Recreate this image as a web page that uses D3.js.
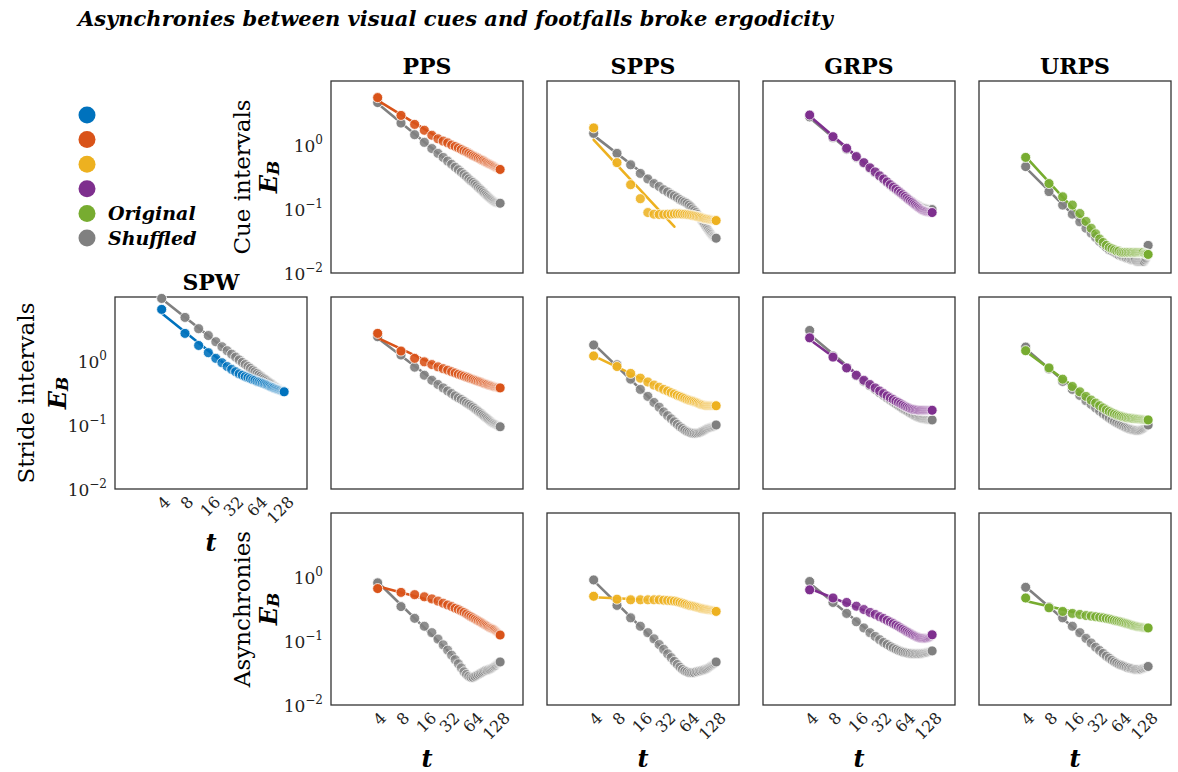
<!DOCTYPE html>
<html><head><meta charset="utf-8">
<script src="https://cdn.jsdelivr.net/npm/d3@7"></script>
<style>body{margin:0;background:#fff} svg{display:block}</style>
</head><body>
<svg id="chart" width="1178" height="772"></svg>
<script>
const titleText = "Asynchronies between visual cues and footfalls broke ergodicity";
const tValues = [4,8,12,16,20,24,28,32,36,40,44,48,52,56,60,64,68,72,76,80,84,88,92,96,100,104,108,112,116,120,124,128,132,136,140,144,148,152];
const xTickValues = [4,8,16,32,64,128];
const yTickValues = [1,0.1,0.01];
const yTickExp = ["0","\u22121","\u22122"];
const conditions = ["SPW","PPS","SPPS","GRPS","URPS"];
const conditionColors = ["#0072BD","#D95319","#EDB120","#7E2F8E","#77AC30"];
const shuffledColor = "#808080";
const rowLabels = ["Cue intervals","Stride intervals","Asynchronies"];
const legendLabels = ["","","","","Original","Shuffled"];

const cuePPSOrig = [5.5,2.9,2.1,1.7,1.42,1.25,1.15,1.08,1.0,0.95,0.9,0.85,0.81,0.78,0.74,0.71,0.68,0.66,0.64,0.62,0.6,0.58,0.57,0.55,0.54,0.52,0.51,0.5,0.49,0.48,0.47,0.46,0.45,0.44,0.435,0.43,0.42,0.415];
const cuePPSShuf = [4.6,2.2,1.45,1.1,0.88,0.74,0.64,0.56,0.5,0.45,0.41,0.375,0.345,0.32,0.295,0.275,0.26,0.245,0.23,0.215,0.205,0.195,0.185,0.175,0.167,0.16,0.153,0.147,0.142,0.137,0.133,0.13,0.127,0.125,0.124,0.123,0.123,0.123];
const cueSPPSOrig = [1.85,0.53,0.24,0.145,0.088,0.083,0.082,0.082,0.083,0.083,0.084,0.084,0.084,0.083,0.083,0.082,0.081,0.08,0.079,0.078,0.077,0.076,0.075,0.074,0.073,0.072,0.071,0.07,0.07,0.069,0.069,0.068,0.068,0.067,0.067,0.066,0.066,0.066];
const cueSPPSShuf = [1.52,0.74,0.49,0.36,0.295,0.25,0.225,0.2,0.185,0.17,0.16,0.15,0.14,0.133,0.128,0.122,0.115,0.108,0.1,0.094,0.088,0.082,0.076,0.07,0.065,0.061,0.057,0.053,0.05,0.047,0.044,0.042,0.04,0.038,0.037,0.036,0.035,0.035];
const cueGRPSOrig = [2.94,1.35,0.89,0.66,0.53,0.44,0.38,0.33,0.295,0.265,0.24,0.22,0.205,0.19,0.178,0.167,0.157,0.148,0.14,0.133,0.127,0.121,0.116,0.111,0.107,0.103,0.1,0.097,0.095,0.093,0.092,0.091,0.09,0.089,0.089,0.088,0.088,0.088];
const cueGRPSShuf = [2.75,1.3,0.86,0.64,0.52,0.43,0.37,0.325,0.29,0.26,0.235,0.215,0.2,0.187,0.175,0.165,0.156,0.148,0.141,0.135,0.13,0.125,0.12,0.116,0.113,0.11,0.108,0.106,0.104,0.103,0.102,0.101,0.1,0.1,0.099,0.099,0.098,0.098];
const cueURPSOrig = [0.64,0.25,0.155,0.115,0.085,0.064,0.05,0.041,0.034,0.03,0.027,0.025,0.024,0.023,0.022,0.022,0.021,0.021,0.021,0.021,0.021,0.021,0.021,0.021,0.021,0.021,0.021,0.021,0.021,0.021,0.021,0.021,0.021,0.02,0.02,0.02,0.02,0.0195];
const cueURPSShuf = [0.46,0.187,0.115,0.083,0.063,0.05,0.042,0.036,0.031,0.028,0.025,0.023,0.022,0.021,0.02,0.019,0.019,0.018,0.018,0.017,0.017,0.017,0.016,0.016,0.016,0.016,0.015,0.015,0.015,0.015,0.015,0.015,0.015,0.015,0.016,0.017,0.019,0.027];

const strideSPWOrig = [6.4,2.7,1.75,1.35,1.1,0.94,0.82,0.74,0.68,0.63,0.6,0.57,0.55,0.53,0.51,0.5,0.48,0.47,0.46,0.45,0.44,0.43,0.42,0.41,0.4,0.39,0.385,0.38,0.37,0.365,0.36,0.355,0.35,0.345,0.34,0.335,0.335,0.33];
const strideSPWShuf = [9.5,4.8,3.2,2.5,2.0,1.67,1.45,1.28,1.15,1.04,0.95,0.88,0.82,0.77,0.72,0.68,0.64,0.61,0.58,0.55,0.53,0.51,0.49,0.47,0.455,0.44,0.425,0.41,0.4,0.39,0.38,0.37,0.36,0.35,0.345,0.34,0.335,0.33];
const stridePPSOrig = [2.7,1.43,1.1,0.97,0.88,0.81,0.76,0.72,0.68,0.65,0.62,0.6,0.58,0.56,0.545,0.53,0.515,0.5,0.49,0.48,0.47,0.46,0.45,0.44,0.435,0.43,0.42,0.415,0.41,0.405,0.4,0.395,0.39,0.39,0.385,0.385,0.38,0.38];
const stridePPSShuf = [2.4,1.24,0.8,0.6,0.5,0.43,0.38,0.34,0.31,0.285,0.265,0.25,0.235,0.22,0.21,0.2,0.19,0.18,0.17,0.162,0.155,0.148,0.141,0.135,0.13,0.125,0.12,0.116,0.112,0.109,0.106,0.104,0.102,0.1,0.098,0.096,0.095,0.094];
const strideSPPSOrig = [1.2,0.82,0.64,0.54,0.47,0.42,0.39,0.36,0.34,0.32,0.305,0.29,0.28,0.27,0.26,0.25,0.245,0.24,0.235,0.23,0.225,0.22,0.215,0.21,0.207,0.205,0.203,0.2,0.2,0.2,0.2,0.2,0.2,0.2,0.2,0.2,0.2,0.2];
const strideSPPSShuf = [1.78,0.87,0.52,0.36,0.28,0.225,0.19,0.16,0.14,0.125,0.112,0.102,0.094,0.088,0.083,0.079,0.077,0.075,0.074,0.074,0.074,0.075,0.076,0.077,0.079,0.081,0.083,0.085,0.087,0.089,0.09,0.091,0.092,0.093,0.094,0.095,0.097,0.1];
const strideGRPSOrig = [2.3,1.15,0.78,0.6,0.5,0.43,0.38,0.34,0.31,0.285,0.265,0.25,0.235,0.225,0.215,0.205,0.197,0.19,0.185,0.18,0.177,0.175,0.173,0.172,0.171,0.17,0.17,0.17,0.17,0.17,0.17,0.17,0.17,0.17,0.17,0.17,0.17,0.17];
const strideGRPSShuf = [3.0,1.2,0.78,0.59,0.48,0.41,0.36,0.32,0.29,0.265,0.245,0.228,0.213,0.2,0.19,0.18,0.172,0.165,0.158,0.152,0.147,0.142,0.138,0.135,0.132,0.13,0.128,0.126,0.125,0.124,0.123,0.122,0.122,0.121,0.121,0.12,0.12,0.12];
const strideURPSOrig = [1.45,0.78,0.52,0.4,0.33,0.28,0.245,0.22,0.2,0.185,0.172,0.162,0.155,0.149,0.144,0.14,0.137,0.134,0.132,0.13,0.129,0.128,0.127,0.126,0.125,0.125,0.124,0.124,0.123,0.123,0.122,0.122,0.121,0.121,0.12,0.12,0.12,0.12];
const strideURPSShuf = [1.65,0.75,0.48,0.36,0.29,0.24,0.21,0.185,0.165,0.15,0.138,0.128,0.12,0.113,0.108,0.103,0.099,0.096,0.093,0.09,0.088,0.086,0.085,0.084,0.083,0.082,0.082,0.082,0.082,0.083,0.084,0.086,0.088,0.09,0.093,0.096,0.098,0.1];

const asyncPPSOrig = [0.66,0.575,0.53,0.49,0.455,0.42,0.39,0.365,0.345,0.325,0.31,0.295,0.28,0.265,0.25,0.24,0.23,0.22,0.212,0.205,0.198,0.192,0.186,0.18,0.175,0.17,0.165,0.16,0.158,0.155,0.152,0.15,0.145,0.14,0.136,0.132,0.128,0.124];
const asyncPPSShuf = [0.81,0.345,0.226,0.17,0.135,0.107,0.087,0.072,0.06,0.051,0.044,0.038,0.033,0.03,0.028,0.027,0.027,0.028,0.029,0.03,0.031,0.032,0.033,0.034,0.035,0.035,0.036,0.036,0.037,0.038,0.039,0.04,0.041,0.042,0.044,0.045,0.046,0.047];
const asyncSPPSOrig = [0.5,0.45,0.44,0.44,0.44,0.44,0.44,0.435,0.43,0.425,0.42,0.41,0.4,0.39,0.38,0.37,0.36,0.355,0.35,0.345,0.34,0.335,0.33,0.325,0.32,0.318,0.315,0.312,0.31,0.308,0.306,0.304,0.302,0.3,0.298,0.296,0.294,0.29];
const asyncSPPSShuf = [0.9,0.36,0.23,0.17,0.135,0.108,0.088,0.074,0.063,0.055,0.048,0.043,0.039,0.036,0.034,0.033,0.032,0.032,0.032,0.032,0.033,0.033,0.034,0.034,0.035,0.035,0.036,0.036,0.037,0.038,0.039,0.04,0.041,0.042,0.043,0.044,0.045,0.047];
const asyncGRPSOrig = [0.63,0.47,0.4,0.35,0.31,0.28,0.26,0.24,0.225,0.21,0.198,0.187,0.177,0.168,0.16,0.153,0.146,0.14,0.135,0.13,0.126,0.122,0.119,0.116,0.114,0.112,0.111,0.11,0.11,0.11,0.11,0.11,0.111,0.112,0.114,0.116,0.12,0.125];
const asyncGRPSShuf = [0.85,0.4,0.27,0.2,0.16,0.135,0.118,0.105,0.095,0.088,0.082,0.078,0.074,0.071,0.069,0.067,0.066,0.065,0.064,0.064,0.063,0.063,0.063,0.063,0.063,0.063,0.063,0.064,0.064,0.065,0.065,0.066,0.066,0.067,0.068,0.069,0.07,0.07];
const asyncURPSOrig = [0.47,0.33,0.29,0.27,0.26,0.25,0.245,0.24,0.235,0.23,0.225,0.22,0.215,0.21,0.206,0.202,0.198,0.194,0.19,0.187,0.184,0.181,0.178,0.175,0.173,0.171,0.169,0.167,0.166,0.165,0.164,0.163,0.162,0.161,0.16,0.16,0.16,0.16];
const asyncURPSShuf = [0.69,0.34,0.23,0.17,0.135,0.11,0.093,0.08,0.071,0.064,0.058,0.054,0.05,0.047,0.045,0.043,0.042,0.041,0.04,0.039,0.038,0.038,0.037,0.037,0.036,0.036,0.036,0.036,0.036,0.036,0.036,0.037,0.037,0.038,0.038,0.039,0.04,0.04];

const panels = [
  {row:0,col:1,orig:cuePPSOrig,shuf:cuePPSShuf},
  {row:0,col:2,orig:cueSPPSOrig,shuf:cueSPPSShuf},
  {row:0,col:3,orig:cueGRPSOrig,shuf:cueGRPSShuf},
  {row:0,col:4,orig:cueURPSOrig,shuf:cueURPSShuf},
  {row:1,col:0,orig:strideSPWOrig,shuf:strideSPWShuf},
  {row:1,col:1,orig:stridePPSOrig,shuf:stridePPSShuf},
  {row:1,col:2,orig:strideSPPSOrig,shuf:strideSPPSShuf},
  {row:1,col:3,orig:strideGRPSOrig,shuf:strideGRPSShuf},
  {row:1,col:4,orig:strideURPSOrig,shuf:strideURPSShuf},
  {row:2,col:1,orig:asyncPPSOrig,shuf:asyncPPSShuf},
  {row:2,col:2,orig:asyncSPPSOrig,shuf:asyncSPPSShuf},
  {row:2,col:3,orig:asyncGRPSOrig,shuf:asyncGRPSShuf},
  {row:2,col:4,orig:asyncURPSOrig,shuf:asyncURPSShuf}
];

// ---------- layout ----------
const serif = "'DejaVu Serif', 'Liberation Serif', serif";
const W = 192, H = 192;
const colLeft = [115, 331, 547, 763, 979];
const rowTop = [81, 297, 513];
const fitMaxT = 44;

const svg = d3.select("#chart");

svg.append("text").attr("x", 78).attr("y", 26)
  .style("font-family", serif).style("font-style","italic").style("font-weight","bold")
  .style("font-size","21px").text(titleText);

// legend
const legendColors = conditionColors.concat([shuffledColor]);
legendColors.forEach((c, i) => {
  const yy = 115 + i * 24.6;
  svg.append("circle").attr("cx", 87).attr("cy", yy).attr("r", 8.5).attr("fill", c);
  if (legendLabels[i]) {
    svg.append("text").attr("x", 108).attr("y", yy + 6.5)
      .style("font-family", serif).style("font-style","italic").style("font-weight","bold")
      .style("font-size","19px").text(legendLabels[i]);
  }
});

function ebLabel(cx, cy) {
  const t = svg.append("text").attr("transform", `translate(${cx},${cy}) rotate(-90)`)
    .attr("text-anchor","middle").attr("dominant-baseline","central")
    .style("font-family", serif).style("font-style","italic").style("font-weight","bold")
    .style("font-size","24px");
  t.append("tspan").text("E");
  t.append("tspan").attr("dy", 5).style("font-size","17px").text("B");
}
function rowLabel(text, cx, cy) {
  svg.append("text").attr("transform", `translate(${cx},${cy}) rotate(-90)`)
    .attr("text-anchor","middle").attr("dominant-baseline","central")
    .style("font-family", serif).style("font-size","23px").text(text);
}
rowLabel(rowLabels[0], 242, rowTop[0] + H/2);
ebLabel(268, rowTop[0] + H/2);
rowLabel(rowLabels[1], 26, rowTop[1] + H/2);
ebLabel(57, rowTop[1] + H/2);
rowLabel(rowLabels[2], 242, rowTop[2] + H/2);
ebLabel(268, rowTop[2] + H/2);

// column titles
conditions.forEach((name, c) => {
  const r = c === 0 ? 1 : 0;
  svg.append("text").attr("x", colLeft[c] + W/2).attr("y", rowTop[r] - 7)
    .attr("text-anchor","middle")
    .style("font-family", serif).style("font-weight","bold").style("font-size","22px")
    .text(name);
});

function xTicks(x, bottom) {
  xTickValues.forEach(v => {
    const t = svg.append("text").attr("text-anchor","middle").attr("dominant-baseline","central")
      .style("font-family", serif).style("font-size","16px").style("fill","#222").text(v);
    const w = t.node().getComputedTextLength();
    const half = (w + 12) * Math.SQRT1_2 / 2;
    t.attr("transform", `translate(${x(v) + 2},${bottom + 6 + half}) rotate(-45)`);
  });
}
function yTicks(y, left) {
  yTickValues.forEach((v, i) => {
    const t = svg.append("text").attr("x", left - 8).attr("y", y(v) + 7)
      .attr("text-anchor","end")
      .style("font-family", serif).style("font-size","17px").style("fill","#222");
    t.append("tspan").text("10");
    t.append("tspan").attr("dy", -8).style("font-size","12px").text(yTickExp[i]);
  });
}
function xLabel(cx, cy) {
  svg.append("text").attr("x", cx).attr("y", cy).attr("text-anchor","middle")
    .style("font-family", serif).style("font-style","italic").style("font-weight","bold")
    .style("font-size","24px").text("t");
}

panels.forEach(p => {
  const x0 = colLeft[p.col], y0 = rowTop[p.row];
  const x = d3.scaleLog().domain([1, 300]).range([x0, x0 + W]);
  const y = d3.scaleLog().domain([0.01, 10]).range([y0 + H, y0]);
  const g = svg.append("g");
  g.append("rect").attr("x", x0).attr("y", y0).attr("width", W).attr("height", H)
    .attr("fill","#fff").attr("stroke","#333").attr("stroke-width",1.3);

  const series = [
    {v: p.shuf, c: shuffledColor},
    {v: p.orig, c: conditionColors[p.col]}
  ];
  series.forEach(s => {
    // power-law fit over the first scales (log-log least squares)
    const pts = tValues.map((t, i) => [Math.log10(t), Math.log10(s.v[i])])
      .filter((d, i) => tValues[i] <= fitMaxT);
    const mx = d3.mean(pts, d => d[0]), my = d3.mean(pts, d => d[1]);
    const b = d3.sum(pts, d => (d[0]-mx)*(d[1]-my)) / d3.sum(pts, d => (d[0]-mx)**2);
    const a = my - b * mx;
    const fitT = [tValues[0], fitMaxT];
    g.append("path")
      .attr("d", d3.line()(fitT.map(t => [x(t), y(Math.pow(10, a + b*Math.log10(t)))])))
      .attr("stroke", s.c).attr("stroke-width", 2.6).attr("fill","none").attr("stroke-linecap","round");
    const n = tValues.length;
    g.selectAll(null).data(tValues).enter().append("circle")
      .attr("cx", t => x(t))
      .attr("cy", (t, i) => y(s.v[i]))
      .attr("r", 5)
      .attr("fill", s.c)
      .attr("fill-opacity", (t, i) => i === n - 1 ? 1 : 1 - 0.92 * Math.pow(i / (n - 1), 0.85))
      .attr("stroke", "#fff").attr("stroke-width", 0.8)
      .attr("stroke-opacity", (t, i) => i === n - 1 ? 1 : 1 - 0.4 * i / (n - 1));
  });

  if (p.row === 2 || p.col === 0) {
    xTicks(x, y0 + H);
    xLabel(x0 + W/2, y0 + H + 62);
  }
  if (p.col === 0 || (p.col === 1 && p.row !== 1)) {
    yTicks(y, x0);
  }
});
</script>
</body></html>
